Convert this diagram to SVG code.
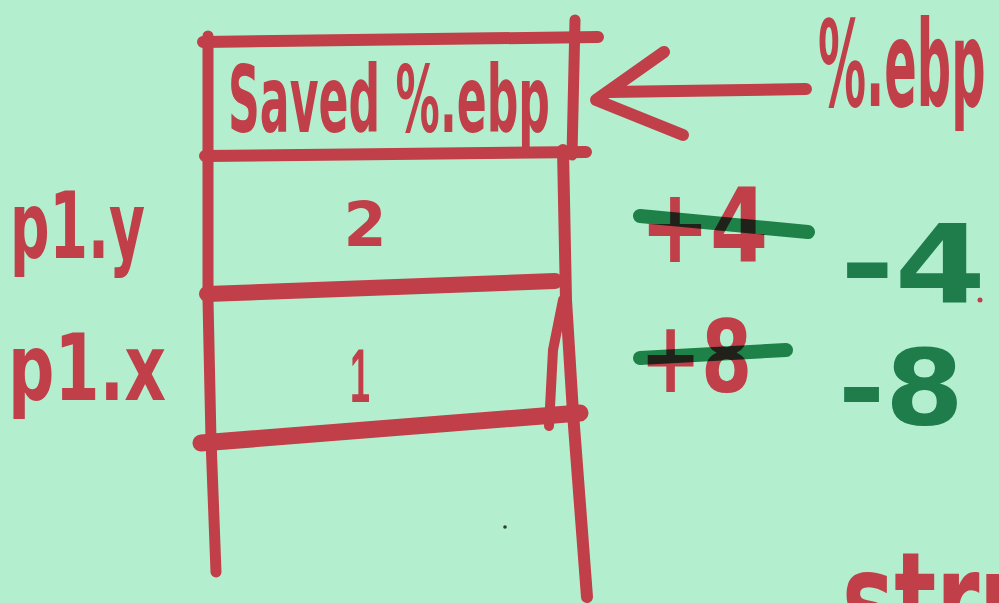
<svg xmlns="http://www.w3.org/2000/svg" width="999" height="603" viewBox="0 0 999 603">
  <style>
    .ink { fill: none; stroke: #c03f49; stroke-linecap: round; stroke-linejoin: round; }
    .pen { fill: none; stroke: #2a8a57; stroke-linecap: round; stroke-linejoin: round; mix-blend-mode: multiply; }
    .red { fill: #c03f49; font-family: "DejaVu Sans", "Liberation Sans", sans-serif; font-weight: bold; }
    .grn { fill: #1f7d4c; font-family: "DejaVu Sans", "Liberation Sans", sans-serif; font-weight: bold; }
  </style>
  <rect width="999" height="603" fill="#b3efcf"/>

  <!-- stack frame outline -->
  <g id="frame">
    <path class="ink" stroke-width="12" d="M203 42 L598 37"/>
    <path class="ink" stroke-width="11" d="M208 36 L208 300 L211 440 L216 572"/>
    <path class="ink" stroke-width="11" d="M575 20 L572 155"/>
    <path class="ink" stroke-width="12" d="M563 150 L566 300 L573 413 L587 597"/>
    <path class="ink" stroke-width="10" d="M563 300 L553 350 L549 426"/>
    <path class="ink" stroke-width="12" d="M205 156 L586 152"/>
    <path class="ink" stroke-width="16" d="M207 294 L555 281"/>
    <path class="ink" stroke-width="17" d="M201 443 L580 413"/>
  </g>

  <!-- slot contents -->
  <g id="saved-ebp">
    <text class="red" x="228" y="132" font-size="92" textLength="322" lengthAdjust="spacingAndGlyphs">Saved %.ebp</text>
  </g>
  <g id="slot-y">
    <text class="red" x="365" y="246" font-size="62" text-anchor="middle">2</text>
  </g>
  <g id="slot-x">
    <text class="red" x="350" y="402" font-size="76" textLength="20" lengthAdjust="spacingAndGlyphs" style="font-family:'Liberation Sans',sans-serif">1</text>
  </g>

  <!-- field labels -->
  <g id="label-y">
    <text class="red" x="10" y="258" font-size="92" textLength="135" lengthAdjust="spacingAndGlyphs">p1.y</text>
  </g>
  <g id="label-x">
    <text class="red" x="8" y="400" font-size="92" textLength="158" lengthAdjust="spacingAndGlyphs">p1.x</text>
  </g>

  <!-- frame pointer arrow -->
  <g id="connectors">
    <path class="ink" stroke-width="12" d="M608 92 L806 89"/>
    <path class="ink" stroke-width="12" d="M664 52 L596 100 L683 135"/>
  </g>
  <g id="ebp">
    <text class="red" transform="translate(818 106) scale(1 2.5)" x="0" y="0" font-size="48">%.ebp</text>
  </g>

  <!-- offsets: old (struck out) and corrected -->
  <g id="offset-4">
    <text class="red" x="640" y="262" font-size="104" textLength="128" lengthAdjust="spacingAndGlyphs">+4</text>
    <path class="pen" stroke-width="14" d="M640 216 L808 232"/>
    <text class="grn" x="840" y="302" font-size="108" textLength="146" lengthAdjust="spacingAndGlyphs">-4</text>
  </g>
  <g id="offset-8">
    <text class="red" x="640" y="392" font-size="100" textLength="112" lengthAdjust="spacingAndGlyphs">+8</text>
    <path class="pen" stroke-width="14" d="M640 358 L786 350"/>
    <text class="grn" x="838" y="425" font-size="106" textLength="126" lengthAdjust="spacingAndGlyphs">-8</text>
  </g>

  <g id="struct">
    <text class="red" x="842" y="645" font-size="130" textLength="200" lengthAdjust="spacingAndGlyphs">stru</text>
  </g>
  <circle cx="980" cy="300" r="2.5" fill="#c03f49"/>
  <circle cx="505" cy="527" r="1.8" fill="#2f3a35"/>
</svg>
